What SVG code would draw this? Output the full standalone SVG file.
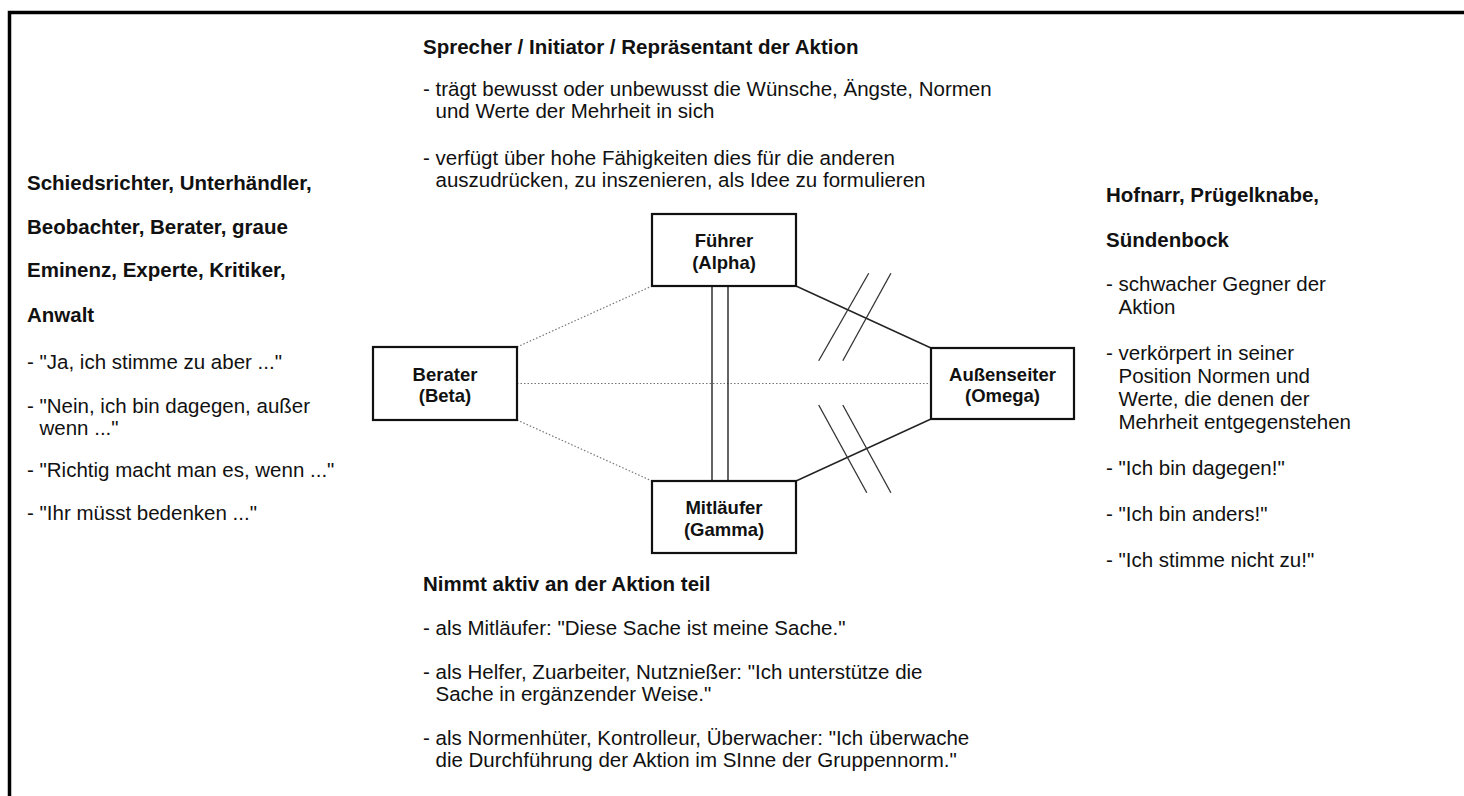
<svg xmlns="http://www.w3.org/2000/svg" width="1464" height="796" viewBox="0 0 1464 796">
<style>
text { font-family: "Liberation Sans", Arial, Helvetica, sans-serif; fill: #111; }
.t { font-size: 20.5px; }
.h { font-size: 20.5px; font-weight: bold; }
.n { font-size: 18.5px; font-weight: bold; text-anchor: middle; }
.box { fill: #fff; stroke: #111; stroke-width: 2.2; }
.dot { stroke: #777; stroke-width: 1.2; stroke-dasharray: 1.5 2; fill: none; }
.sol { stroke: #222; stroke-width: 1.4; fill: none; }
.brk { stroke: #333; stroke-width: 1.3; fill: none; }
</style>
<rect width="1464" height="796" fill="#fff"/>
<path id="frame" d="M9.5,796 V12.5 H1464" fill="none" stroke="#000" stroke-width="3.5"/>

<g id="connectors">
  <line class="dot" x1="517" y1="347" x2="652" y2="286"/>
  <line class="dot" x1="517" y1="420" x2="652" y2="481"/>
  <line class="dot" x1="517" y1="383.5" x2="931" y2="383.5"/>
  <line class="sol" x1="796" y1="286" x2="931" y2="348"/>
  <line class="sol" x1="796" y1="481" x2="931" y2="419"/>
  <line class="sol" x1="712" y1="286" x2="712" y2="481"/>
  <line class="sol" x1="728" y1="286" x2="728" y2="481"/>
  <line class="brk" x1="868.7" y1="273.3" x2="818.7" y2="360.7"/>
  <line class="brk" x1="890.9" y1="273.3" x2="842.8" y2="360.7"/>
  <line class="brk" x1="818.7" y1="405" x2="866.8" y2="492.7"/>
  <line class="brk" x1="842.8" y1="405" x2="890.9" y2="492.7"/>
</g>

<g id="node-alpha">
  <rect class="box" x="652" y="214" width="144" height="72"/>
  <text class="n" x="724" y="247">Führer</text>
  <text class="n" x="724" y="268.7">(Alpha)</text>
</g>
<g id="node-beta">
  <rect class="box" x="373" y="347" width="144" height="73"/>
  <text class="n" x="445" y="380.5">Berater</text>
  <text class="n" x="445" y="402.2">(Beta)</text>
</g>
<g id="node-omega">
  <rect class="box" x="931" y="348" width="143" height="71"/>
  <text class="n" x="1002.5" y="380.5">Außenseiter</text>
  <text class="n" x="1002.5" y="402.2">(Omega)</text>
</g>
<g id="node-gamma">
  <rect class="box" x="652" y="481" width="144" height="72"/>
  <text class="n" x="724" y="514">Mitläufer</text>
  <text class="n" x="724" y="535.7">(Gamma)</text>
</g>

<g id="text-top">
  <text class="h" x="423" y="54">Sprecher / Initiator / Repräsentant der Aktion</text>
  <text class="t" x="423" y="96">- trägt bewusst oder unbewusst die Wünsche, Ängste, Normen</text>
  <text class="t" x="435.5" y="118">und Werte der Mehrheit in sich</text>
  <text class="t" x="423" y="165">- verfügt über hohe Fähigkeiten dies für die anderen</text>
  <text class="t" x="435.5" y="187">auszudrücken, zu inszenieren, als Idee zu formulieren</text>
</g>

<g id="text-left">
  <text class="h" x="27" y="189.5">Schiedsrichter, Unterhändler,</text>
  <text class="h" x="27" y="234">Beobachter, Berater, graue</text>
  <text class="h" x="27" y="276.5">Eminenz, Experte, Kritiker,</text>
  <text class="h" x="27" y="322">Anwalt</text>
  <text class="t" x="27" y="368.5">- "Ja, ich stimme zu aber ..."</text>
  <text class="t" x="27" y="413">- "Nein, ich bin dagegen, außer</text>
  <text class="t" x="39.5" y="435">wenn ..."</text>
  <text class="t" x="27" y="477">- "Richtig macht man es, wenn ..."</text>
  <text class="t" x="27" y="520">- "Ihr müsst bedenken ..."</text>
</g>

<g id="text-right">
  <text class="h" x="1106" y="202">Hofnarr, Prügelknabe,</text>
  <text class="h" x="1106" y="247">Sündenbock</text>
  <text class="t" x="1106" y="291">- schwacher Gegner der</text>
  <text class="t" x="1118.5" y="314">Aktion</text>
  <text class="t" x="1106" y="360">- verkörpert in seiner</text>
  <text class="t" x="1118.5" y="383">Position Normen und</text>
  <text class="t" x="1118.5" y="406">Werte, die denen der</text>
  <text class="t" x="1118.5" y="429">Mehrheit entgegenstehen</text>
  <text class="t" x="1106" y="475">- "Ich bin dagegen!"</text>
  <text class="t" x="1106" y="521">- "Ich bin anders!"</text>
  <text class="t" x="1106" y="567">- "Ich stimme nicht zu!"</text>
</g>

<g id="text-bottom">
  <text class="h" x="423" y="591">Nimmt aktiv an der Aktion teil</text>
  <text class="t" x="423" y="635">- als Mitläufer: "Diese Sache ist meine Sache."</text>
  <text class="t" x="423" y="679">- als Helfer, Zuarbeiter, Nutznießer: "Ich unterstütze die</text>
  <text class="t" x="435.5" y="701">Sache in ergänzender Weise."</text>
  <text class="t" x="423" y="745">- als Normenhüter, Kontrolleur, Überwacher: "Ich überwache</text>
  <text class="t" x="435.5" y="767">die Durchführung der Aktion im SInne der Gruppennorm."</text>
</g>
</svg>
